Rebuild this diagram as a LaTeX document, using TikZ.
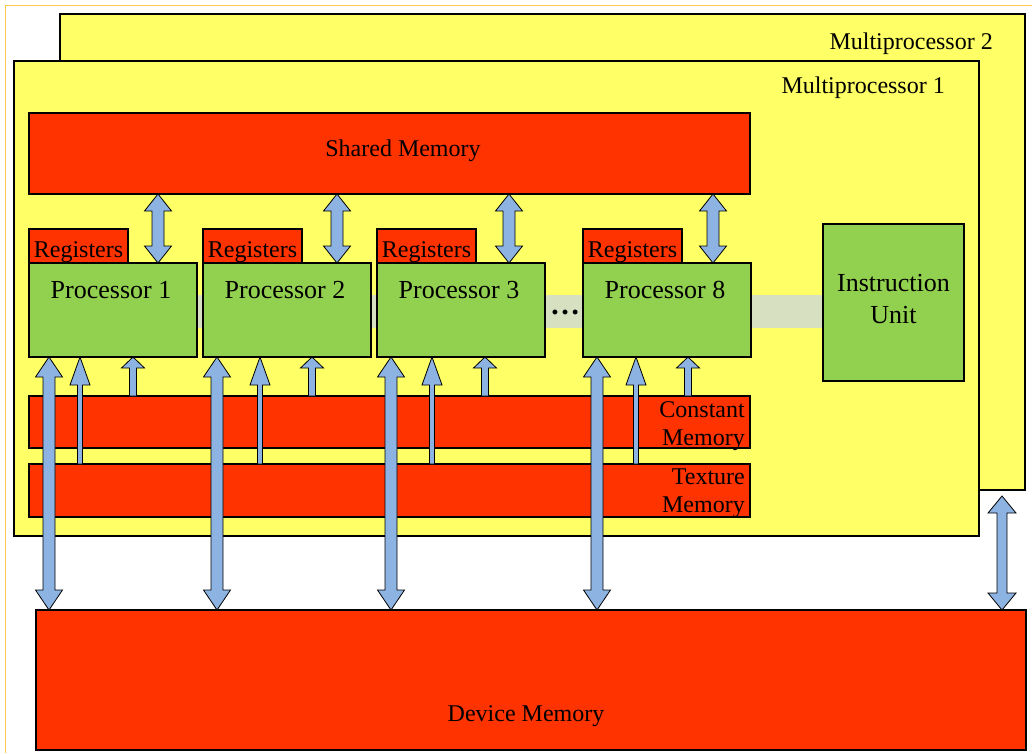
\documentclass[tikz,border=0pt]{standalone}
\usepackage{fontspec}
\setmainfont{Liberation Serif}
\usetikzlibrary{positioning, calc}

\definecolor{mpyellow}{HTML}{FFFF66}
\definecolor{memred}{HTML}{FF3300}
\definecolor{procgreen}{HTML}{92D050}
\definecolor{arrowblue}{HTML}{8DB3E2}
\definecolor{busgray}{HTML}{D7E0C0}
\definecolor{framegold}{HTML}{FFC848}

\tikzset{
  box/.style={draw=black, line width=1.2pt, inner sep=0pt, outer sep=0pt, anchor=north west},
  mpbox/.style={box, fill=mpyellow},
  membox/.style={box, fill=memred},
  procbox/.style={box, fill=procgreen},
  lbl/.style={font=\fontsize{24}{28}\selectfont, inner sep=0pt, yshift=-3pt},
  plbl/.style={font=\fontsize{26}{32}\selectfont, inner sep=0pt},
  dblarrow/.style n args={3}{draw=black, fill=arrowblue, line width=0.8pt,
    to path={let \p1=(\tikztostart), \p2=(\tikztotarget) in
      (\x1,\y1) -- (\x1+#1,\y1-#3) -- (\x1+#2,\y1-#3) -- (\x1+#2,\y2+#3) -- (\x1+#1,\y2+#3)
      -- (\x1,\y2) -- (\x1-#1,\y2+#3) -- (\x1-#2,\y2+#3) -- (\x1-#2,\y1-#3) -- (\x1-#1,\y1-#3) -- cycle}},
  uparrow/.style n args={3}{draw=black, fill=arrowblue, line width=0.8pt,
    to path={let \p1=(\tikztostart), \p2=(\tikztotarget) in
      (\x1,\y1) -- (\x1+#1,\y1-#3) -- (\x1+#2,\y1-#3) -- (\x1+#2,\y2)
      -- (\x1-#2,\y2) -- (\x1-#2,\y1-#3) -- (\x1-#1,\y1-#3) -- cycle}},
}

\begin{document}
\begin{tikzpicture}[x=1pt, y=-1pt]
\useasboundingbox (0,0) rectangle (1032,753);
% --- page frame ---
\draw[framegold, line width=1pt] (5,753) -- (5,5) -- (1032,5);

% --- multiprocessors ---
\node[mpbox, minimum width=965, minimum height=476] (mp2) at (60,14) {};
\node[lbl, anchor=east] (mp2lbl) at (993,41) {Multiprocessor 2};
\node[mpbox, minimum width=965, minimum height=475] (mp1) at (14,61) {};
\node[lbl, anchor=east] (mp1lbl) at (945,85) {Multiprocessor 1};

% --- shared memory and bus ---
\node[membox, minimum width=721, minimum height=81] (shared) at (29,113) {};
\node[lbl] (sharedlbl) at (403,148) {Shared Memory};
\fill[busgray] (196,295) rectangle (823,328);

% --- processors ---
\foreach \k/\px in {1/29, 2/203, 3/377, 8/583} {
  \node[membox, minimum width=99, minimum height=34] (r\k) at (\px,229) {};
  \node[lbl] (rl\k) at ($(r\k.center)+(0,3)$) {Registers};
  \node[procbox, minimum width=168, minimum height=94] (p\k) at (\px,263) {};
  \node[plbl] (pl\k) at ($(p\k.north)+(-2,27)$) {Processor \k};
}
\node[font=\bfseries\fontsize{30}{30}\selectfont, inner sep=0pt] (dots) at (565,312) {…};

% --- instruction unit ---
\node[procbox, minimum width=141, minimum height=157] (iu) at (823,224) {};
\node[plbl, align=center] (iulbl) at ($(iu.center)+(0,-3)$) {Instruction\\Unit};

% --- constant and texture memory ---
\node[membox, minimum width=721, minimum height=52] (const) at (29,396) {};
\node[lbl, align=right, anchor=east] (constlbl) at (745,423) {Constant\\Memory};
\node[membox, minimum width=721, minimum height=53] (tex) at (29,464) {};
\node[lbl, align=right, anchor=east] (texlbl) at (745,490) {Texture\\Memory};

\foreach \k/\tx/\cx in {1/80/133, 2/260/312, 3/432/485, 8/636/688} {
  \coordinate (tx\k) at (\tx,0);
  \coordinate (cx\k) at (\cx,0);
  \coordinate (t\k) at (p\k.south -| tx\k);
  \coordinate (tb\k) at (tx\k |- tex.north);
  \coordinate (c\k) at (p\k.south -| cx\k);
  \coordinate (cb\k) at (cx\k |- const.north);
  \draw[uparrow={10pt}{2.5pt}{28pt}] (t\k) to (tb\k);
  \draw[uparrow={11.5pt}{3.5pt}{11pt}] (c\k) to (cb\k);
}

% --- device memory ---
\node[membox, minimum width=990, minimum height=140] (dev) at (36,610) {};
\node[lbl] (devlbl) at (526,713) {Device Memory};

\foreach \k/\sx/\dx in {1/158/49, 2/337/217, 3/509/391, 8/713/597} {
  \coordinate (sx\k) at (\sx,0);
  \coordinate (dx\k) at (\dx,0);
  \coordinate (st\k) at (sx\k |- shared.south);
  \coordinate (sb\k) at (sx\k |- p\k.north);
  \coordinate (dt\k) at (dx\k |- p\k.south);
  \coordinate (db\k) at (dx\k |- dev.north);
  \draw[dblarrow={13.5pt}{6pt}{17pt}] (st\k) to (sb\k);
  \draw[dblarrow={13.5pt}{6pt}{20pt}] (dt\k) to (db\k);
}
\coordinate (mpt) at ($(mp2.south east)+(-23,6)$);
\coordinate (mpb) at (mpt |- dev.north);
\draw[dblarrow={14pt}{5pt}{17pt}] (mpt) to (mpb);
\end{tikzpicture}
\end{document}
